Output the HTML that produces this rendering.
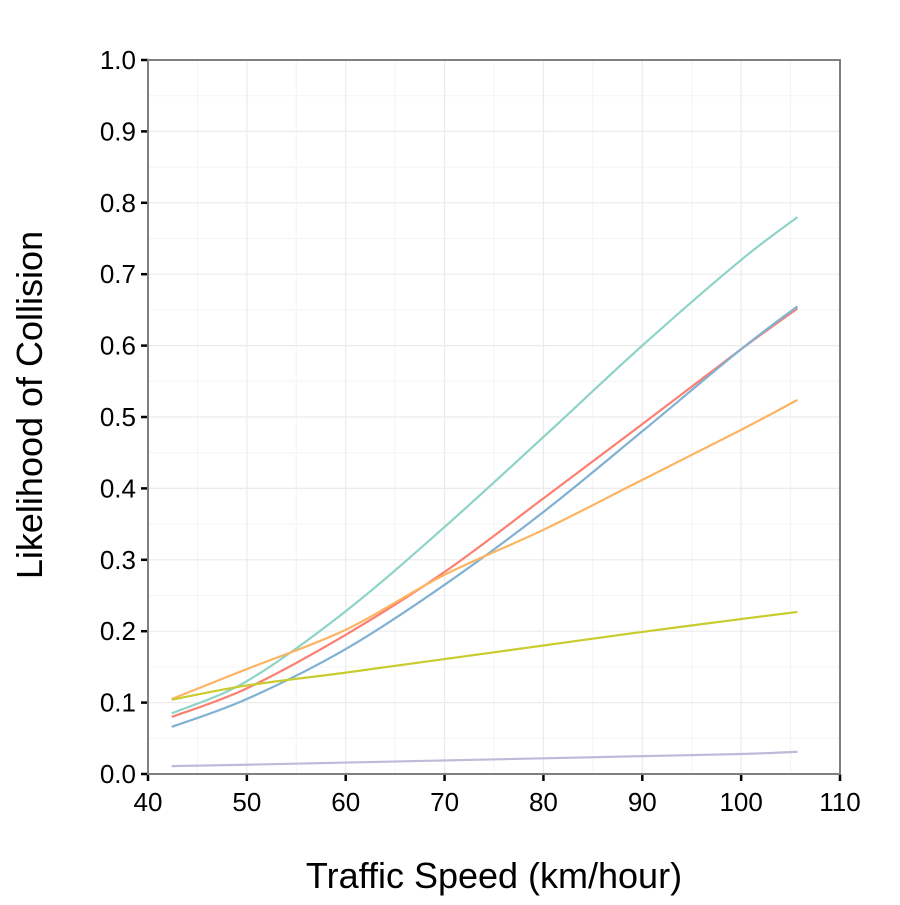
<!DOCTYPE html>
<html><head><meta charset="utf-8"><style>
body{margin:0;background:#fff}
svg text{font-family:"Liberation Sans",Arial,sans-serif}
</style></head><body>
<svg id="chart" width="900" height="900" viewBox="0 0 900 900" xmlns="http://www.w3.org/2000/svg"></svg>
<script>
const xTicks=[40,50,60,70,80,90,100,110];
const yTicks=[0,0.1,0.2,0.3,0.4,0.5,0.6,0.7,0.8,0.9,1.0];
const speeds=[42.4,50,60,70,80,90,100,105.7];
const tealValues=[0.085,0.13,0.228,0.346,0.472,0.60,0.72,0.78];
const redValues=[0.08,0.12,0.195,0.283,0.386,0.49,0.595,0.652];
const blueValues=[0.066,0.105,0.175,0.265,0.367,0.48,0.595,0.655];
const orangeValues=[0.105,0.147,0.202,0.279,0.342,0.412,0.482,0.524];
const yellowValues=[0.104,0.124,0.142,0.161,0.18,0.199,0.217,0.227];
const purpleValues=[0.011,0.013,0.016,0.019,0.022,0.025,0.028,0.031];
const seriesNames=["teal","red","blue","orange","yellow","purple"];

const svg=document.getElementById('chart');
const NS='http://www.w3.org/2000/svg';
const L=148,R=840,T=60,B=774;
const xs=v=>L+(v-40)/70*(R-L);
const ys=v=>B-v*(B-T);
function mk(tag,attrs,parent){const e=document.createElementNS(NS,tag);for(const k in attrs)e.setAttribute(k,attrs[k]);(parent||svg).appendChild(e);return e;}

for(let i=0;i<xTicks.length-1;i++){const v=(xTicks[i]+xTicks[i+1])/2;const g=mk('line',{x1:xs(v),x2:xs(v),y1:T,y2:B,stroke:'#f4f4f4','stroke-width':1});

}
for(let i=0;i<yTicks.length-1;i++){const v=(yTicks[i]+yTicks[i+1])/2;const g=mk('line',{x1:L,x2:R,y1:ys(v),y2:ys(v),stroke:'#f4f4f4','stroke-width':1});

}
xTicks.forEach(v=>{const g=mk('line',{x1:xs(v),x2:xs(v),y1:T,y2:B,stroke:'#ebebeb','stroke-width':1.2});


const t=mk('line',{x1:xs(v),x2:xs(v),y1:B,y2:B+7,stroke:'#000','stroke-width':2.5});


const l=mk('text',{x:xs(v),y:B+37,'text-anchor':'middle','font-size':26,fill:'#000'});l.textContent=v;

});
yTicks.forEach(v=>{const g=mk('line',{x1:L,x2:R,y1:ys(v),y2:ys(v),stroke:'#ebebeb','stroke-width':1.2});


const t=mk('line',{x1:L-7,x2:L,y1:ys(v),y2:ys(v),stroke:'#000','stroke-width':2.5});


const l=mk('text',{x:L-12,y:ys(v)+9,'text-anchor':'end','font-size':26,fill:'#000'});l.textContent=v.toFixed(1);

});
const border=mk('rect',{x:L,y:T,width:R-L,height:B-T,fill:'none',stroke:'#7f7f7f','stroke-width':2});



const series=[[tealValues,'#8dd3c7'],[redValues,'#fb8072'],[blueValues,'#80b1d3'],[orangeValues,'#fdb462'],[yellowValues,'#c9cc2e'],[purpleValues,'#bebada']];
series.forEach((s,i)=>{
  const pts=[];
  for(let k=0;k<speeds.length;k++)pts.push([xs(speeds[k]),ys(s[0][k])]);
  let d='M'+pts[0][0]+','+pts[0][1];
  for(let k=0;k<pts.length-1;k++){const p0=pts[k-1]||pts[k],p1=pts[k],p2=pts[k+1],p3=pts[k+2]||p2;
    d+=' C'+(p1[0]+(p2[0]-p0[0])/6)+','+(p1[1]+(p2[1]-p0[1])/6)+' '+(p2[0]-(p3[0]-p1[0])/6)+','+(p2[1]-(p3[1]-p1[1])/6)+' '+p2[0]+','+p2[1];}
  const p=mk('path',{d:d,fill:'none',stroke:s[1],'stroke-width':2.2});
  
  
});
const xt=mk('text',{x:(L+R)/2,y:888,'text-anchor':'middle','font-size':36,fill:'#000'});xt.textContent='Traffic Speed (km/hour)';


const yt=mk('text',{x:0,y:0,'text-anchor':'middle','font-size':36,fill:'#000',transform:'translate(42,405) rotate(-90)'});yt.textContent='Likelihood of Collision';


</script>
</body></html>
